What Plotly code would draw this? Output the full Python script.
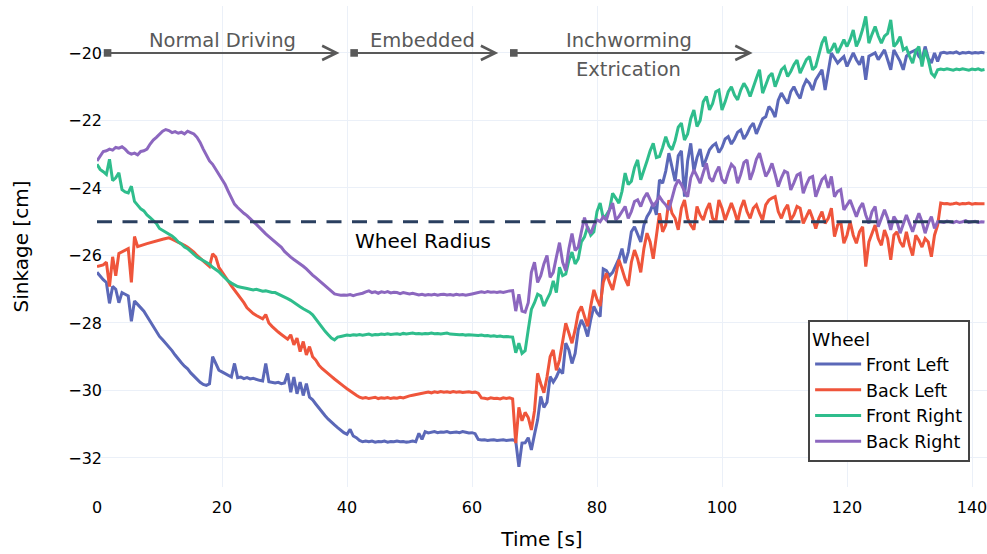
import numpy as np
import plotly.graph_objects as go

# Sample times [s], one reading every 0.5 s
TIME = np.round(np.arange(0, 142.01, 0.5), 1)

# Wheel sinkage [cm] per wheel, one row per 10 s
FRONT_LEFT = [
    -26.50, -26.62, -26.72, -26.80, -27.42, -26.92, -27.00, -27.40, -27.10, -27.15, -27.20, -27.95, -27.35, -27.45, -27.55, -27.65, -27.80, -27.95, -28.10, -28.25,
    -28.40, -28.50, -28.60, -28.70, -28.82, -28.95, -29.08, -29.18, -29.28, -29.36, -29.48, -29.58, -29.68, -29.76, -29.82, -29.85, -29.80, -29.00, -29.20, -29.40,
    -29.45, -29.50, -29.55, -29.60, -29.20, -29.62, -29.60, -29.65, -29.62, -29.66, -29.64, -29.68, -29.70, -29.72, -29.20, -29.74, -29.75, -29.78, -29.76, -29.80,
    -29.78, -29.50, -30.05, -29.60, -30.10, -29.75, -30.15, -29.80, -30.20, -30.28, -30.40, -30.52, -30.65, -30.75, -30.85, -30.95, -31.02, -31.10, -31.18, -31.25,
    -31.30, -31.15, -31.35, -31.40, -31.48, -31.52, -31.50, -31.52, -31.50, -31.53, -31.51, -31.52, -31.50, -31.53, -31.51, -31.52, -31.50, -31.52, -31.51, -31.53,
    -31.52, -31.50, -31.52, -31.27, -31.45, -31.22, -31.26, -31.24, -31.22, -31.25, -31.23, -31.24, -31.22, -31.25, -31.24, -31.23, -31.25, -31.22, -31.24, -31.26,
    -31.25, -31.28, -31.45, -31.47, -31.46, -31.48, -31.47, -31.46, -31.48, -31.47, -31.46, -31.48, -31.47, -31.46, -31.50, -32.26, -31.56, -31.55, -31.40, -31.76,
    -31.30, -30.87, -30.18, -30.50, -30.35, -29.59, -29.75, -29.60, -29.39, -29.50, -28.60, -28.80, -29.20, -28.90, -28.20, -27.91, -28.10, -28.40, -27.90, -27.51,
    -27.70, -27.81, -26.40, -26.45, -26.60, -26.50, -26.30, -26.10, -25.80, -26.23, -25.90, -25.30, -25.15, -25.40, -25.60, -25.10, -24.85, -24.70, -24.45, -24.80,
    -23.76, -23.86, -23.50, -22.97, -23.40, -23.80, -23.05, -22.90, -24.26, -23.20, -22.68, -23.50, -23.10, -22.85, -23.37, -23.10, -22.87, -22.75, -22.68, -22.95,
    -22.80, -22.55, -22.48, -22.70, -22.55, -22.35, -22.28, -22.55, -22.40, -22.20, -22.08, -22.40, -22.20, -21.95, -21.89, -21.59, -21.70, -21.90, -21.40, -21.19,
    -21.35, -21.50, -21.15, -21.00, -21.20, -21.35, -21.00, -20.80, -20.90, -21.10, -20.80, -20.65, -20.50, -21.10, -20.60, -20.00, -20.15, -20.30, -20.20, -20.11,
    -20.40, -20.20, -20.00, -20.20, -20.35, -20.10, -20.80, -20.10, -20.05, -20.00, -20.20, -20.05, -19.91, -20.20, -20.50, -19.91, -20.10, -20.25, -20.50, -20.10,
    -20.00, -19.95, -19.91, -20.10, -20.20, -19.81, -20.15, -20.30, -20.00, -20.25, -20.00, -19.98, -20.01, -19.99, -20.00, -19.97, -20.02, -19.99, -20.00, -19.98,
    -20.01, -19.99, -20.00, -19.98, -20.00,
]

BACK_LEFT = [
    -26.33, -26.30, -26.28, -26.20, -26.92, -26.04, -26.60, -25.94, -25.90, -25.84, -25.80, -26.80, -25.44, -25.74, -25.70, -25.68, -25.65, -25.62, -25.60, -25.56,
    -25.54, -25.52, -25.50, -25.48, -25.52, -25.56, -25.62, -25.66, -25.70, -25.76, -25.82, -25.90, -26.00, -26.08, -26.18, -26.26, -26.33, -25.95, -26.05, -26.35,
    -26.50, -26.63, -26.76, -26.90, -27.02, -27.15, -27.28, -27.40, -27.55, -27.65, -27.72, -27.78, -27.84, -27.88, -27.75, -28.00, -28.10, -28.20, -28.27, -28.34,
    -28.40, -28.48, -28.35, -28.65, -28.45, -28.85, -28.55, -28.95, -28.70, -29.00, -29.10, -29.25, -29.35, -29.42, -29.50, -29.58, -29.66, -29.74, -29.82, -29.88,
    -29.95, -30.02, -30.08, -30.14, -30.20, -30.23, -30.21, -30.24, -30.22, -30.20, -30.24, -30.22, -30.23, -30.21, -30.24, -30.22, -30.23, -30.20, -30.22, -30.18,
    -30.16, -30.14, -30.12, -30.10, -30.08, -30.06, -30.05, -30.07, -30.04, -30.06, -30.03, -30.05, -30.04, -30.06, -30.03, -30.05, -30.04, -30.06, -30.05, -30.04,
    -30.06, -30.05, -30.08, -30.22, -30.23, -30.25, -30.22, -30.24, -30.23, -30.25, -30.22, -30.24, -30.22, -30.25, -31.56, -30.50, -30.90, -30.65, -30.80, -31.17,
    -30.60, -29.49, -29.80, -30.07, -29.60, -29.00, -28.80, -29.40, -29.10, -28.60, -28.01, -28.30, -28.60, -28.20, -27.70, -27.51, -27.80, -28.10, -27.50, -27.02,
    -27.30, -27.50, -26.80, -26.53, -26.80, -27.02, -26.60, -26.13, -26.40, -26.70, -26.90, -26.20, -25.84, -26.10, -26.50, -25.80, -25.34, -25.60, -26.10, -25.40,
    -24.75, -25.30, -25.10, -24.36, -24.75, -24.90, -25.24, -24.60, -24.36, -24.90, -25.10, -25.24, -24.55, -24.80, -24.95, -24.65, -24.45, -24.90, -25.00, -24.36,
    -24.60, -24.95, -24.70, -24.45, -24.70, -25.00, -24.60, -24.36, -24.70, -24.90, -24.60, -24.50, -24.75, -24.95, -24.50, -24.36, -24.30, -24.26, -24.70, -24.90,
    -24.65, -24.50, -24.95, -24.80, -24.55, -24.60, -25.05, -24.85, -24.65, -24.90, -25.20, -24.90, -24.70, -25.05, -24.90, -24.60, -25.44, -25.10, -25.00, -25.64,
    -25.40, -25.00, -25.40, -25.64, -25.30, -25.15, -26.33, -25.60, -25.35, -25.10, -25.50, -25.70, -25.25, -25.50, -26.13, -25.40, -25.30, -25.60, -25.75, -25.30,
    -25.70, -26.00, -25.40, -25.55, -25.75, -25.50, -25.60, -26.04, -25.40, -25.10, -24.45, -24.47, -24.46, -24.48, -24.47, -24.45, -24.48, -24.46, -24.47, -24.45,
    -24.48, -24.46, -24.47, -24.46, -24.47,
]

FRONT_RIGHT = [
    -23.30, -23.45, -23.52, -23.60, -23.15, -23.78, -23.70, -23.55, -24.05, -24.12, -24.15, -23.95, -24.40, -24.50, -24.62, -24.68, -24.80, -24.88, -24.98, -25.05,
    -25.20, -25.25, -25.30, -25.35, -25.42, -25.50, -25.60, -25.66, -25.75, -25.80, -25.88, -25.95, -26.05, -26.10, -26.15, -26.20, -26.26, -26.35, -26.42, -26.48,
    -26.58, -26.68, -26.76, -26.82, -26.87, -26.92, -26.94, -26.97, -26.98, -27.00, -27.02, -27.00, -27.04, -27.06, -27.05, -27.08, -27.10, -27.10, -27.14, -27.18,
    -27.22, -27.28, -27.33, -27.40, -27.46, -27.52, -27.58, -27.62, -27.68, -27.76, -27.88, -28.02, -28.15, -28.25, -28.35, -28.45, -28.50, -28.42, -28.40, -28.38,
    -28.36, -28.37, -28.35, -28.36, -28.34, -28.36, -28.35, -28.33, -28.36, -28.34, -28.35, -28.33, -28.34, -28.32, -28.34, -28.33, -28.32, -28.34, -28.31, -28.33,
    -28.32, -28.30, -28.32, -28.31, -28.33, -28.31, -28.32, -28.30, -28.32, -28.31, -28.33, -28.32, -28.30, -28.33, -28.34, -28.33, -28.35, -28.34, -28.36, -28.35,
    -28.36, -28.35, -28.37, -28.36, -28.38, -28.37, -28.39, -28.38, -28.40, -28.39, -28.41, -28.40, -28.42, -28.42, -28.88, -28.60, -28.90, -28.82, -28.20, -27.60,
    -27.40, -27.15, -27.20, -27.50, -27.30, -27.12, -26.75, -27.10, -26.35, -26.60, -26.55, -26.15, -25.90, -26.25, -26.10, -25.60, -25.45, -25.15, -25.40, -25.30,
    -24.70, -24.45, -24.90, -24.80, -24.65, -24.16, -24.30, -24.45, -24.10, -23.56, -23.90, -23.80, -23.40, -23.17, -23.76, -23.50, -23.20, -22.90, -22.68, -23.10,
    -23.07, -22.80, -22.48, -22.75, -22.87, -22.60, -22.20, -22.08, -22.58, -22.40, -21.95, -21.69, -22.18, -22.00, -21.45, -21.29, -21.69, -21.50, -21.15, -21.10,
    -21.69, -21.45, -21.15, -21.00, -21.25, -21.39, -21.10, -20.90, -21.05, -21.29, -21.05, -20.75, -20.50, -21.19, -20.95, -20.70, -20.60, -21.00, -20.75, -20.50,
    -20.41, -20.70, -20.55, -20.35, -20.21, -20.60, -20.40, -20.20, -20.11, -20.50, -20.40, -20.05, -19.70, -19.52, -20.00, -19.90, -19.71, -20.00, -19.80, -19.61,
    -19.81, -19.60, -19.32, -19.81, -19.60, -19.30, -18.92, -19.71, -19.45, -19.22, -19.50, -19.71, -19.50, -19.42, -19.02, -19.81, -19.70, -19.52, -19.91, -19.85,
    -20.10, -20.30, -19.95, -19.81, -20.40, -19.91, -20.20, -20.60, -20.70, -20.50, -20.48, -20.50, -20.47, -20.49, -20.51, -20.48, -20.50, -20.47, -20.49, -20.51,
    -20.48, -20.50, -20.47, -20.51, -20.49,
]

BACK_RIGHT = [
    -23.20, -23.05, -22.92, -22.90, -22.85, -22.88, -22.80, -22.82, -22.78, -22.85, -22.95, -23.00, -22.97, -23.02, -22.92, -22.90, -22.85, -22.70, -22.58, -22.50,
    -22.40, -22.32, -22.27, -22.30, -22.36, -22.33, -22.38, -22.35, -22.40, -22.32, -22.36, -22.40, -22.50, -22.65, -22.85, -23.05, -23.20, -23.30, -23.45, -23.60,
    -23.75, -23.90, -24.10, -24.30, -24.48, -24.58, -24.68, -24.75, -24.82, -24.92, -25.00, -25.08, -25.18, -25.28, -25.36, -25.44, -25.52, -25.60, -25.68, -25.76,
    -25.88, -25.98, -26.05, -26.12, -26.18, -26.24, -26.32, -26.40, -26.50, -26.58, -26.66, -26.74, -26.82, -26.90, -26.98, -27.07, -27.14, -27.16, -27.18, -27.17,
    -27.18, -27.16, -27.19, -27.16, -27.15, -27.12, -27.08, -27.05, -27.10, -27.08, -27.12, -27.08, -27.10, -27.07, -27.11, -27.09, -27.10, -27.13, -27.10, -27.12,
    -27.14, -27.12, -27.15, -27.17, -27.15, -27.18, -27.16, -27.17, -27.15, -27.18, -27.16, -27.15, -27.17, -27.16, -27.18, -27.15, -27.17, -27.16, -27.18, -27.15,
    -27.14, -27.12, -27.10, -27.08, -27.10, -27.07, -27.09, -27.08, -27.10, -27.08, -27.10, -27.07, -27.05, -27.04, -27.65, -27.15, -27.65, -27.68, -27.40, -26.50,
    -26.20, -26.80, -26.60, -26.25, -26.00, -26.65, -26.50, -26.05, -25.62, -26.20, -26.45, -25.80, -25.35, -25.85, -25.75, -25.30, -24.88, -25.20, -25.35, -25.10,
    -24.95, -25.00, -24.85, -24.95, -24.65, -24.45, -24.95, -24.85, -24.70, -24.55, -24.90, -24.70, -24.40, -24.35, -24.55, -24.30, -24.15, -24.35, -24.55, -24.40,
    -24.26, -24.40, -24.50, -24.65, -24.30, -23.96, -23.76, -23.90, -24.10, -24.26, -23.70, -23.47, -23.65, -23.86, -23.55, -23.27, -23.70, -23.81, -23.55, -23.37,
    -23.75, -23.86, -23.55, -23.30, -23.40, -23.86, -23.60, -23.25, -23.17, -23.76, -23.50, -23.15, -22.97, -23.30, -23.66, -23.50, -23.27, -23.60, -23.96, -23.70,
    -23.50, -23.55, -24.06, -23.85, -23.62, -23.57, -24.16, -23.90, -23.70, -23.66, -24.26, -24.00, -23.75, -23.66, -24.00, -23.66, -24.26, -24.10, -24.05, -24.65,
    -24.50, -24.36, -24.60, -24.85, -24.60, -24.45, -24.80, -25.05, -24.70, -24.55, -25.15, -24.90, -24.65, -24.90, -25.24, -24.85, -25.00, -25.34, -25.10, -24.80,
    -25.05, -25.30, -25.00, -24.75, -25.00, -25.34, -25.05, -24.85, -25.20, -25.00, -25.00, -25.02, -24.98, -25.01, -25.03, -24.99, -25.02, -25.00, -24.97, -25.02,
    -25.01, -24.99, -25.02, -25.00, -25.01,
]

WHEELS = ["Front Left", "Back Left", "Front Right", "Back Right"]
SERIES = [FRONT_LEFT, BACK_LEFT, FRONT_RIGHT, BACK_RIGHT]
COLORS = ["#5b68b8", "#ef553b", "#2fbd8c", "#8c67bf"]

WHEEL_RADIUS = -25.0

# Manoeuvre phases: (label, start time, end time)
PHASES = [
    ("Normal Driving", 1.45, 38.8),
    ("Embedded", 40.9, 64.2),
    ("Inchworming", 66.45, 104.9),
]
PHASE_LABELS = [
    ("Normal Driving", 20.0, -19.64),
    ("Embedded", 52.0, -19.64),
    ("Inchworming", 85.1, -19.64),
    ("Extrication", 85.1, -20.48),
]
PHASE_LEVEL = -20.0

FONT = "DejaVu Sans"
GREY = "#595959"

fig = go.Figure()
for name, values, color in zip(WHEELS, SERIES, COLORS):
    fig.add_trace(go.Scatter(
        x=TIME, y=values, mode="lines", name=name,
        line=dict(color=color, width=3),
    ))

# wheel radius reference line
fig.add_shape(
    type="line", xref="paper", x0=0, x1=1, yref="y", y0=WHEEL_RADIUS, y1=WHEEL_RADIUS,
    line=dict(color="#2a3f5f", width=3, dash="15px,10.5px"), layer="above",
)
fig.add_annotation(
    x=52.2, y=-25.56, text="Wheel Radius", showarrow=False,
    font=dict(family=FONT, size=20, color="black"),
)

# phase arrows
for _, t0, t1 in PHASES:
    fig.add_annotation(
        x=t1, y=PHASE_LEVEL, ax=t0, ay=PHASE_LEVEL,
        xref="x", yref="y", axref="x", ayref="y",
        text="", showarrow=True, arrowside="end+start",
        arrowhead=5, startarrowhead=7, arrowsize=1.4, startarrowsize=0.95,
        arrowwidth=2, arrowcolor=GREY,
    )
for text, tx, ty in PHASE_LABELS:
    fig.add_annotation(
        x=tx, y=ty, text=text, showarrow=False,
        font=dict(family=FONT, size=19.5, color=GREY),
    )

fig.update_layout(
    template="plotly_white",
    width=987, height=554,
    margin=dict(l=97, r=0, t=6, b=67),
    font=dict(family=FONT, size=16, color="black"),
    plot_bgcolor="white",
    paper_bgcolor="white",
    xaxis=dict(
        range=[0, 142.4], dtick=20, showgrid=True, gridcolor="#ebf0f8",
        zeroline=False, ticklabeloverflow="allow", ticklabelstandoff=9,
        title=dict(text="Time [s]", font=dict(size=20)),
    ),
    yaxis=dict(
        range=[-32.86, -18.61], dtick=2, showgrid=True, gridcolor="#ebf0f8",
        zeroline=False, ticklabelstandoff=-6,
        title=dict(text="Sinkage [cm]", font=dict(size=20), standoff=34),
    ),
    legend=dict(
        x=0.799, y=0.347, xanchor="left", yanchor="top",
        bgcolor="white", bordercolor="#444", borderwidth=2,
        title=dict(text="Wheel", font=dict(size=18.5)),
        font=dict(size=17.5), itemwidth=46,
    ),
    showlegend=True,
)

fig.write_html("out.html")
